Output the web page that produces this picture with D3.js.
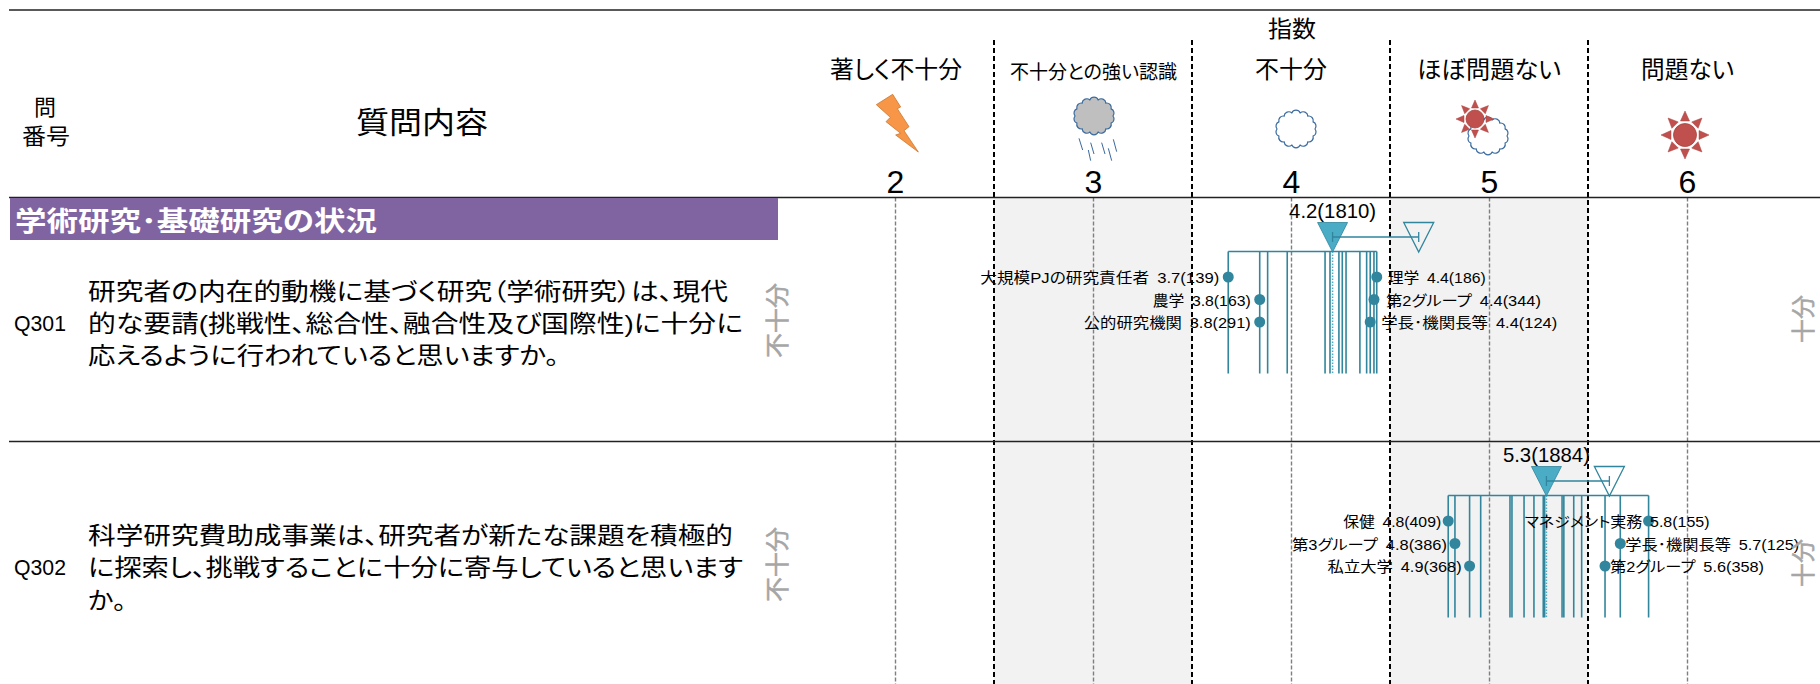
<!DOCTYPE html>
<html lang="ja">
<head>
<meta charset="utf-8">
<title>学術研究・基礎研究の状況</title>
<script src="https://cdn.jsdelivr.net/npm/d3@7/dist/d3.min.js"></script>
<style>
  html, body { margin: 0; padding: 0; background: #fff; overflow: hidden; }
  svg { display: block; }
  text { font-family: "Liberation Sans", "Noto Sans CJK JP", sans-serif; fill: #000; font-feature-settings: "palt"; }
</style>
</head>
<body>
<svg id="chart" width="1820" height="684"></svg>
<script>
// values
const axisTicks = [2, 3, 4, 5, 6];
const bandEdges = [2.5, 3.5, 4.5, 5.5];
const shadedBands = [[2.5, 3.5], [4.5, 5.5]];
const levelNames = ["著しく不十分", "不十分との強い認識", "不十分", "ほぼ問題ない", "問題ない"];

const questionIds = ["Q301", "Q302"];
const q301Text = [
  "研究者の内在的動機に基づく研究（学術研究）は、現代",
  "的な要請(挑戦性、総合性、融合性及び国際性)に十分に",
  "応えるように行われていると思いますか。"
];
const q302Text = [
  "科学研究費助成事業は、研究者が新たな課題を積極的",
  "に探索し、挑戦することに十分に寄与していると思います",
  "か。"
];

const means = [4.21, 5.29];
const meanCounts = [1810, 1884];
const benchmarks = [4.645, 5.608];
const meanLabels = ["4.2", "5.3"];

const q301Groups = [3.683, 3.842, 3.882, 3.981, 4.172, 4.197, 4.242, 4.259, 4.278, 4.348, 4.382, 4.4, 4.419, 4.433];
const q302Groups = [4.794, 4.828, 4.902, 4.958, 5.106, 5.116, 5.177, 5.227, 5.274, 5.281, 5.369, 5.378, 5.428, 5.468, 5.586, 5.663, 5.806];

const q301Names = ["大規模PJの研究責任者", "農学", "公的研究機関", "理学", "第2グループ", "学長･機関長等"];
const q301Values = [3.683, 3.842, 3.842, 4.433, 4.419, 4.4];
const q301Shown = ["3.7", "3.8", "3.8", "4.4", "4.4", "4.4"];
const q301Counts = [139, 163, 291, 186, 344, 124];

const q302Names = ["保健", "第3グループ", "私立大学", "マネジメント実務", "学長･機関長等", "第2グループ"];
const q302Values = [4.794, 4.828, 4.902, 5.806, 5.663, 5.586];
const q302Shown = ["4.8", "4.8", "4.9", "5.8", "5.7", "5.6"];
const q302Counts = [409, 386, 368, 155, 125, 358];

// layout of the group labels, kept apart from the values: [dx from dot, width]
const q301LabelLayout = [[-248, 239], [-107, 98], [-176, 167], [11, 98], [12, 155], [11, 176]];
const q302LabelLayout = [[-105, 98], [-163, 155], [-142, 134], [-124, 185], [5, 174], [5, 154]];

const teal = "#31859C", tealFill = "#4BACC6", gridGrey = "#7F7F7F", sideGrey = "#A6A6A6";

const svg = d3.select("#chart");
const x = d3.scaleLinear().domain([2, 6]).range([895, 1687]);
const rowY = d3.scaleLinear().domain([0, 1]).range([197.5, 441.5]);
const chartBottom = 684;

// squeezes or stretches a string to the width it has in the source table
function label(g, px, py, str, size, width, o) {
  o = o || {};
  const t = g.append("text").attr("x", px).attr("y", py)
    .attr("font-size", size).text(str);
  if (width) t.attr("textLength", width).attr("lengthAdjust", "spacingAndGlyphs");
  if (o.anchor) t.attr("text-anchor", o.anchor);
  if (o.fill) t.style("fill", o.fill);
  if (o.weight) t.attr("font-weight", o.weight);
  if (o.rotate) t.attr("transform", `rotate(${o.rotate} ${px} ${py})`);
  if (o.stroke) t.attr("stroke", o.fill).attr("stroke-width", o.stroke);
  return t;
}

// background bands
svg.append("g").selectAll("rect").data(shadedBands).join("rect")
  .attr("x", d => x(d[0])).attr("y", rowY(0))
  .attr("width", d => x(d[1]) - x(d[0])).attr("height", chartBottom - rowY(0))
  .attr("fill", "#F2F2F2");

// grey grid and big numbers come from the axis
const axis = d3.axisTop(x).tickValues(axisTicks).tickFormat(d3.format("d"))
  .tickSize(-(chartBottom - rowY(0))).tickPadding(5);
const axisG = svg.append("g").attr("transform", `translate(0,${rowY(0)})`).call(axis);
axisG.select(".domain").remove();
axisG.selectAll(".tick line").attr("stroke", gridGrey).attr("stroke-width", 1.4).attr("stroke-dasharray", "4 2");
axisG.selectAll(".tick text").attr("font-size", 32).attr("font-family", null).style("fill", "#000");

// black dashed band edges
svg.append("g").selectAll("line").data(bandEdges).join("line")
  .attr("x1", d => x(d)).attr("x2", d => x(d)).attr("y1", 40).attr("y2", chartBottom)
  .attr("stroke", "#000").attr("stroke-width", 2).attr("stroke-dasharray", "5 3");

// horizontal rules
svg.append("g").selectAll("line").data([10, rowY(0), rowY(1)]).join("line")
  .attr("x1", 9).attr("x2", 1820).attr("y1", d => d).attr("y2", d => d)
  .attr("stroke", "#222").attr("stroke-width", 1.3);

// header text
const head = svg.append("g");
label(head, 1268, 37, "指数", 23, 48);
const levelX = [830, 1010, 1255, 1417, 1641];
const levelY = [78, 79, 78, 78, 78];
const levelW = [132, 167, 72, 144, 93];
const levelSize = [24, 19, 24, 24, 24];
levelNames.forEach((n, i) => label(head, levelX[i], levelY[i], n, levelSize[i], levelW[i]));
label(head, 34, 115, "問", 22, 22);
label(head, 22, 144, "番号", 22, 48);
label(head, 356, 133, "質問内容", 30, 132);

// section bar
svg.append("rect").attr("x", 10).attr("y", 198).attr("width", 768).attr("height", 42).attr("fill", "#8064A2");
label(svg, 15, 231, "学術研究･基礎研究の状況", 27, 362, { fill: "#fff", weight: 700 });

// weather icons, one per level
function cloudPath(cx, cy, rx, ry, bumps) {
  const pts = d3.range(bumps).map(i => {
    const a = i / bumps * 2 * Math.PI;
    return [cx + rx * Math.cos(a), cy + ry * Math.sin(a)];
  });
  const r = 2 * Math.PI * (rx + ry) / 2 / bumps * 0.58;
  return "M" + pts[0].join(",") + pts.slice(1).concat([pts[0]])
    .map(p => `A${r},${r} 0 0 1 ${p[0]},${p[1]}`).join("") + "Z";
}
function sun(g, cx, cy, r, rayIn, rayOut, w) {
  d3.range(8).forEach(i => {
    const a = i * Math.PI / 4, c = Math.cos(a), s = Math.sin(a);
    g.append("path")
      .attr("d", `M${cx + rayOut * c},${cy + rayOut * s}` +
        `L${cx + rayIn * c - w * s},${cy + rayIn * s + w * c}` +
        `L${cx + rayIn * c + w * s},${cy + rayIn * s - w * c}Z`)
      .attr("fill", "#C0504D").attr("stroke", "#A8423F").attr("stroke-width", 0.5);
  });
  g.append("circle").attr("cx", cx).attr("cy", cy).attr("r", r)
    .attr("fill", "#C0504D").attr("stroke", "#A8423F").attr("stroke-width", 0.8);
}
const icons = svg.append("g");
const boltPts = [[338, 283], [289, 314], [331, 352], [318, 365], [362, 400], [347, 405], [415, 456], [372, 392], [387, 380], [352, 326], [362, 321]];
icons.append("polygon")
  .attr("points", boltPts.map(p => [780 + p[0] / 3, p[1] / 3].join(",")).join(" "))
  .attr("fill", "#F79646").attr("stroke", "#C9772F").attr("stroke-width", 0.8);

icons.append("path").attr("d", cloudPath(1094, 116, 19, 16.5, 14))
  .attr("fill", "#BFBFBF").attr("stroke", "#3A6A9E").attr("stroke-width", 1.2);
const rain = [[897, 415, 908, 450], [932, 428, 942, 462], [925, 450, 932, 482], [965, 428, 975, 462], [985, 445, 995, 482], [1000, 418, 1010, 455]];
icons.selectAll("line.rain").data(rain).join("line").attr("class", "rain")
  .attr("x1", d => 780 + d[0] / 3).attr("y1", d => d[1] / 3)
  .attr("x2", d => 780 + d[2] / 3).attr("y2", d => d[3] / 3)
  .attr("stroke", "#3A6A9E").attr("stroke-width", 1);

icons.append("path").attr("d", cloudPath(1296, 129, 19, 16.5, 14))
  .attr("fill", "#fff").attr("stroke", "#3A6A9E").attr("stroke-width", 1.2);
icons.append("path").attr("d", cloudPath(1488, 136, 19, 16.5, 14))
  .attr("fill", "#fff").attr("stroke", "#3A6A9E").attr("stroke-width", 1.2);
sun(icons, 1475, 119, 9, 11, 19, 3.5);
sun(icons, 1685, 135, 11.5, 14, 24, 4.5);

// the question rows
const rows = questionIds.map((id, i) => ({
  id,
  text: [q301Text, q302Text][i],
  mean: means[i],
  count: meanCounts[i],
  shown: meanLabels[i],
  bench: benchmarks[i],
  groups: [q301Groups, q302Groups][i],
  names: [q301Names, q302Names][i],
  values: [q301Values, q302Values][i],
  valueText: [q301Shown, q302Shown][i],
  counts: [q301Counts, q302Counts][i],
  layout: [q301LabelLayout, q302LabelLayout][i]
}));

// row offsets from the rule above each row; the first row sits a bit higher
const rowText = [
  { idY: 331, baselines: [300, 332, 364], widths: [640, 655, 471], sideY: 358 },
  { idY: 575, baselines: [544, 576, 609], widths: [645, 655, 38], sideY: 602 }
];
const lineTop = 54, lineBottom = 176, triTop = 25, triH = 29.5, triHalf = 15, bracketY = 39.5;
const dotY = [79.5, 102, 124.5];

rows.forEach((row, i) => {
  const g = svg.append("g").attr("class", "row").attr("transform", `translate(0,${rowY(i)})`);
  const lay = rowText[i];

  label(svg, 14, lay.idY, row.id, 22, 52);
  row.text.forEach((s, k) => label(svg, 88, lay.baselines[k], s, 24, lay.widths[k]));
  label(svg, 786, lay.sideY, "不十分", 24, 75, { fill: sideGrey, rotate: -90, stroke: 0.5 });
  label(svg, 1812, lay.sideY - 15, "十分", 24, 48, { fill: sideGrey, rotate: -90, stroke: 0.5 });

  // rail and one tick per group
  const extent = d3.extent(row.groups);
  g.append("line").attr("x1", x(extent[0])).attr("x2", x(extent[1]))
    .attr("y1", lineTop).attr("y2", lineTop)
    .attr("stroke", teal).attr("stroke-width", 1.6);
  g.selectAll("line.group").data(row.groups).join("line").attr("class", "group")
    .attr("x1", d => x(d)).attr("x2", d => x(d))
    .attr("y1", lineTop).attr("y2", lineBottom)
    .attr("stroke", teal).attr("stroke-width", 1.6);
  g.append("line").attr("x1", x(row.mean)).attr("x2", x(row.mean))
    .attr("y1", lineTop).attr("y2", lineBottom)
    .attr("stroke", tealFill).attr("stroke-width", 1.5).attr("stroke-dasharray", "1.5 1.5");

  // filled triangle is the mean, open triangle the comparison
  const tri = v => `M${x(v) - triHalf},${triTop}L${x(v) + triHalf},${triTop}L${x(v)},${triTop + triH}Z`;
  g.append("path").attr("d", tri(row.bench)).attr("fill", "none")
    .attr("stroke", teal).attr("stroke-width", 1.3);
  g.append("path").attr("d", tri(row.mean)).attr("fill", tealFill)
    .attr("stroke", teal).attr("stroke-width", 0.8);
  g.append("line").attr("x1", x(row.mean)).attr("x2", x(row.bench))
    .attr("y1", bracketY).attr("y2", bracketY).attr("stroke", teal).attr("stroke-width", 1.3);
  [row.mean, row.bench].forEach(v => g.append("line")
    .attr("x1", x(v)).attr("x2", x(v)).attr("y1", bracketY - 5).attr("y2", bracketY + 5)
    .attr("stroke", teal).attr("stroke-width", 1.3));

  label(g, x(row.mean) - 43.5, 20, `${row.shown}(${row.count})`, 21, 87);

  // three labelled groups on each side
  row.names.forEach((n, k) => {
    const v = row.values[k], yy = dotY[k % 3];
    g.append("circle").attr("cx", x(v)).attr("cy", yy).attr("r", 5.5).attr("fill", teal);
    const l = row.layout[k];
    const t = label(g, x(v) + l[0], yy + 6, "", 14.5, l[1]);
    t.append("tspan").text(n);
    t.append("tspan").attr("dx", 7).attr("font-size", 14.5).text(`${row.valueText[k]}(${row.counts[k]})`);
  });
});
</script>
</body>
</html>
